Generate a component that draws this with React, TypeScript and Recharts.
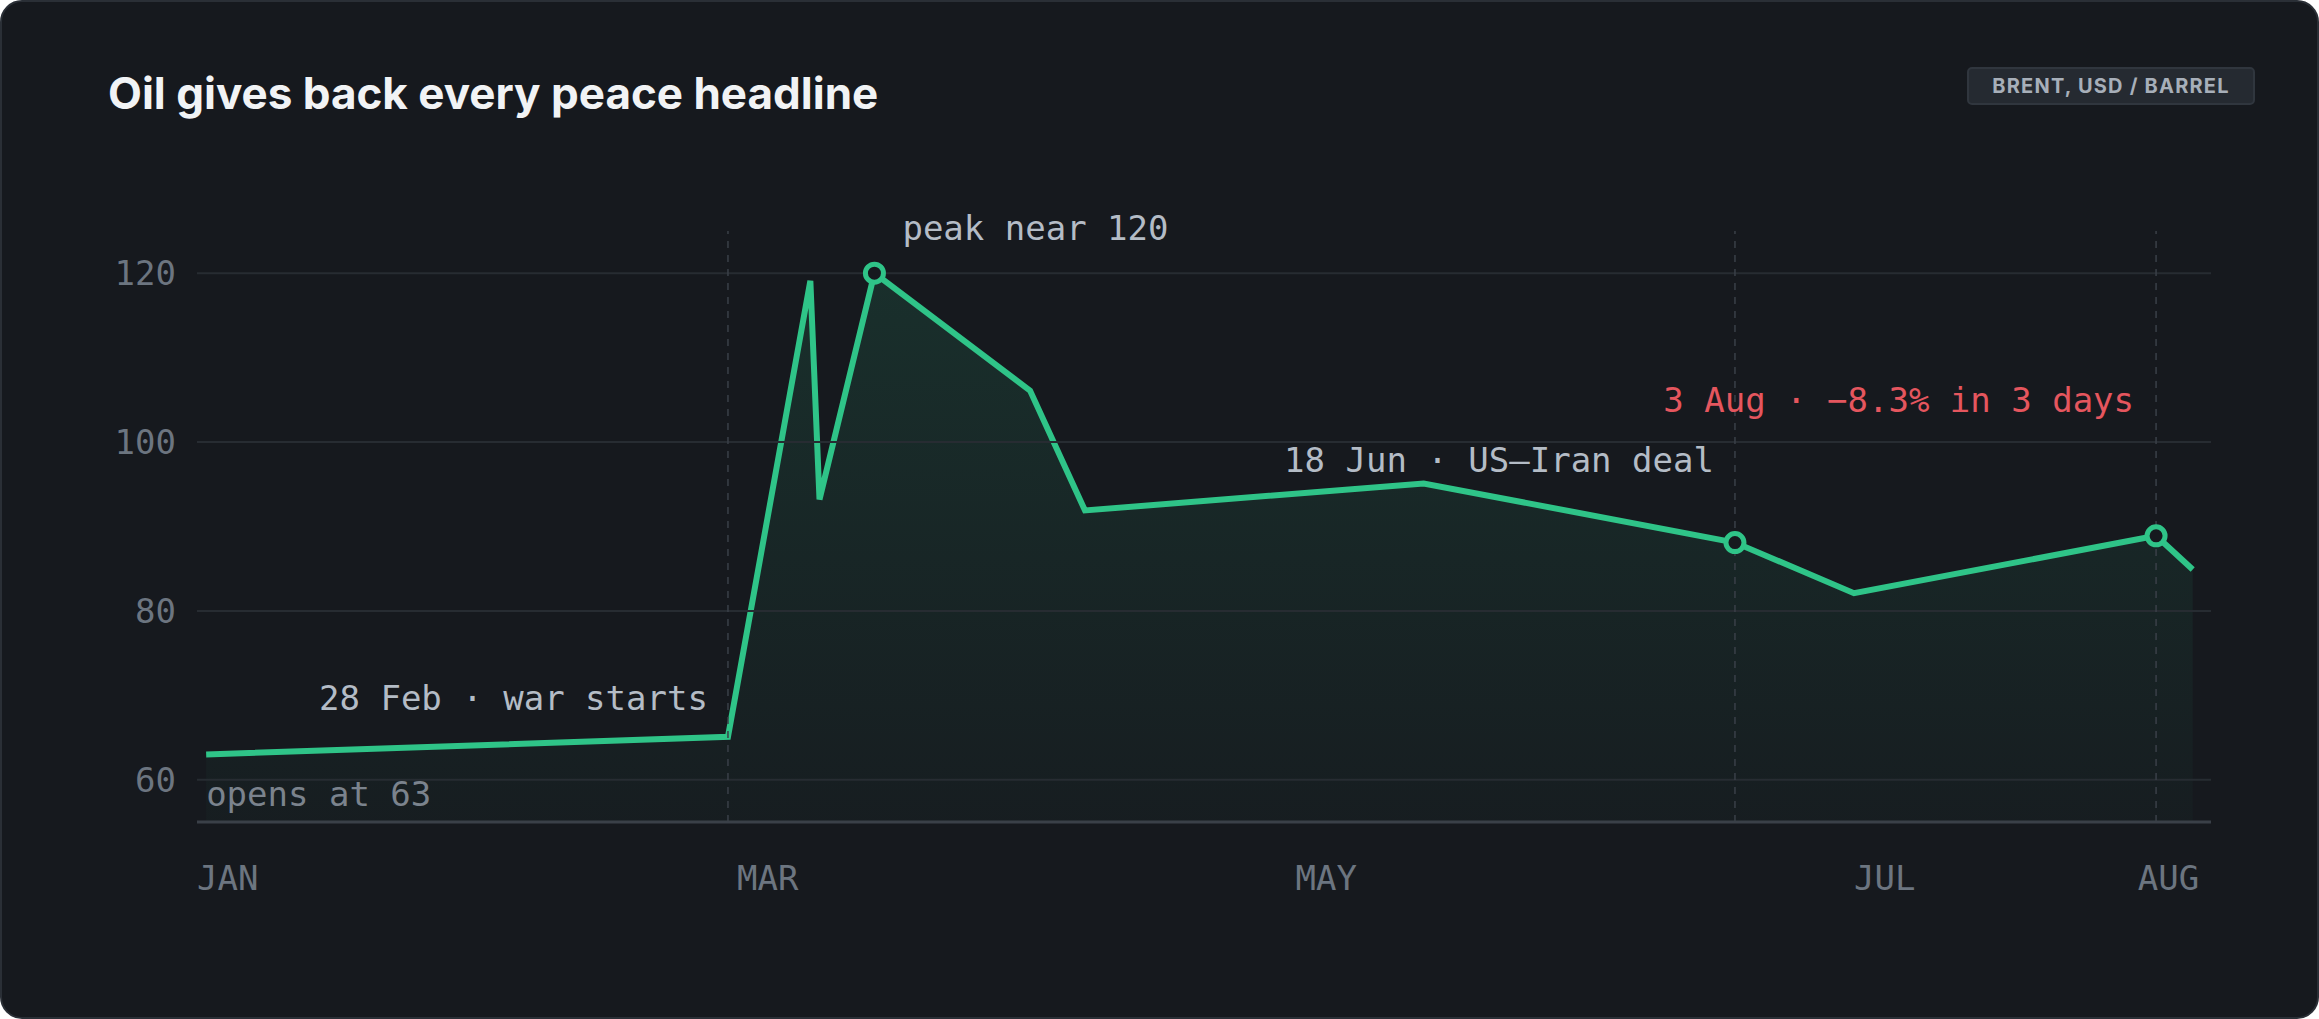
import { ComposedChart, Area, XAxis, YAxis, ReferenceLine, ReferenceDot } from 'recharts';

// day of year (Jan 1 = 0) and Brent price
const days = [1, 58, 67, 68, 74, 91, 97, 134, 168, 181, 214, 218];
const prices = [63, 65.1, 119.1, 93.2, 120, 106.1, 91.9, 95.1, 88.1, 82.1, 88.9, 84.9];
const markedDays = [74, 168, 214];
const eventDays = [58, 168, 214];

const monthTicks = [0, 59, 120, 181, 212];
const monthLabels = ['JAN', 'MAR', 'MAY', 'JUL', 'AUG'];
const priceTicks = [60, 80, 100, 120];

const notes = [
  { day: 74, price: 120, text: 'peak near 120', dx: 28, dy: -33, anchor: 'start', color: '#b4bcc6' },
  { day: 58, price: 65.1, text: '28 Feb · war starts', dx: -20, dy: -27, anchor: 'end', color: '#b4bcc6' },
  { day: 168, price: 88.1, text: '18 Jun · US–Iran deal', dx: -21, dy: -71, anchor: 'end', color: '#b4bcc6' },
  { day: 214, price: 88.9, text: '3 Aug · −8.3% in 3 days', dx: -22, dy: -124, anchor: 'end', color: '#e5565e' },
  { day: 1, price: 63, text: 'opens at 63', dx: 0, dy: 52, anchor: 'start', color: '#7b838d' },
];

const data = days.map((d, i) => ({ day: d, price: prices[i] }));

const MONO = '"DejaVu Sans Mono", monospace';
const GREEN = '#2fc488';
const BG = '#16191e';

const XTick = (props: any) => {
  const i = monthTicks.indexOf(props.payload.value);
  return (
    <text x={props.x} y={props.y + 66} textAnchor="start" fill="#6c7580" fontSize={34} fontFamily={MONO}>
      {monthLabels[i]}
    </text>
  );
};

const YTick = (props: any) => (
  <text x={props.x} y={props.y + 12} textAnchor="end" fill="#6c7580" fontSize={34} fontFamily={MONO}>
    {props.payload.value}
  </text>
);

const Dot = (props: any) => {
  if (!markedDays.includes(props.payload.day)) return <g key={props.index} />;
  return <circle key={props.index} cx={props.cx} cy={props.cy} r={9} fill={BG} stroke={GREEN} strokeWidth={5} />;
};

export default function App() {
  document.body.style.margin = '0';
  return (
    <div
      style={{
        position: 'relative',
        width: 2319,
        height: 1019,
        boxSizing: 'border-box',
        background: BG,
        border: '2px solid #2a2f36',
        borderRadius: 22,
        overflow: 'hidden',
      }}
    >
      <div
        style={{
          position: 'absolute',
          left: 106,
          top: 64,
          fontFamily: 'Inter, sans-serif',
          fontWeight: 700,
          fontSize: 44,
          color: '#f1f3f5',
          zIndex: 1,
        }}
      >
        Oil gives back every peace headline
      </div>
      <div
        style={{
          position: 'absolute',
          left: 1965,
          top: 65,
          width: 288,
          height: 38,
          boxSizing: 'border-box',
          background: '#252a31',
          border: '2px solid #30363e',
          borderRadius: 5,
          fontFamily: 'Inter, sans-serif',
          fontWeight: 700,
          fontSize: 20,
          letterSpacing: 1.2,
          color: '#a7afb9',
          display: 'flex',
          alignItems: 'center',
          justifyContent: 'center',
          zIndex: 1,
        }}
      >
        BRENT, USD / BARREL
      </div>
      <div style={{ position: 'absolute', left: -2, top: -2 }}>
        <ComposedChart width={2319} height={1019} data={data} margin={{ top: 231, right: 108, left: 0, bottom: 0 }}>
          <defs>
            <linearGradient id="fillG" x1="0" y1="0" x2="0" y2="1">
              <stop offset="0%" stopColor={GREEN} stopOpacity={0.22} />
              <stop offset="100%" stopColor={GREEN} stopOpacity={0.04} />
            </linearGradient>
          </defs>
          <XAxis
            dataKey="day"
            type="number"
            domain={[0, 220]}
            ticks={monthTicks}
            tick={<XTick />}
            tickLine={false}
            tickSize={0}
            height={197}
            axisLine={{ stroke: '#3a4048', strokeWidth: 3 }}
          />
          <YAxis
            type="number"
            domain={[55, 125]}
            ticks={priceTicks}
            tick={<YTick />}
            tickLine={false}
            tickSize={0}
            tickMargin={21}
            axisLine={false}
            width={197}
          />
          {priceTicks.map((v) => (
            <ReferenceLine key={v} y={v} stroke="#272c32" strokeWidth={2} />
          ))}
          {eventDays.map((d) => (
            <ReferenceLine key={d} x={d} stroke="#3a4048" strokeDasharray="7 7" strokeWidth={1.5} />
          ))}
          <Area
            type="linear"
            dataKey="price"
            stroke={GREEN}
            strokeWidth={6}
            fill="url(#fillG)"
            baseValue={55}
            dot={<Dot />}
            activeDot={false}
            isAnimationActive={false}
          />
          {notes.map((n) => (
            <ReferenceDot
              key={n.text}
              x={n.day}
              y={n.price}
              r={0}
              ifOverflow="visible"
              stroke="none"
              label={(p: any) => (
                <text
                  x={p.viewBox.cx ?? p.viewBox.x}
                  y={p.viewBox.cy ?? p.viewBox.y}
                  dx={n.dx}
                  dy={n.dy}
                  textAnchor={n.anchor}
                  fill={n.color}
                  fontSize={34}
                  fontFamily={MONO}
                >
                  {n.text}
                </text>
              )}
            />
          ))}
        </ComposedChart>
      </div>
    </div>
  );
}
